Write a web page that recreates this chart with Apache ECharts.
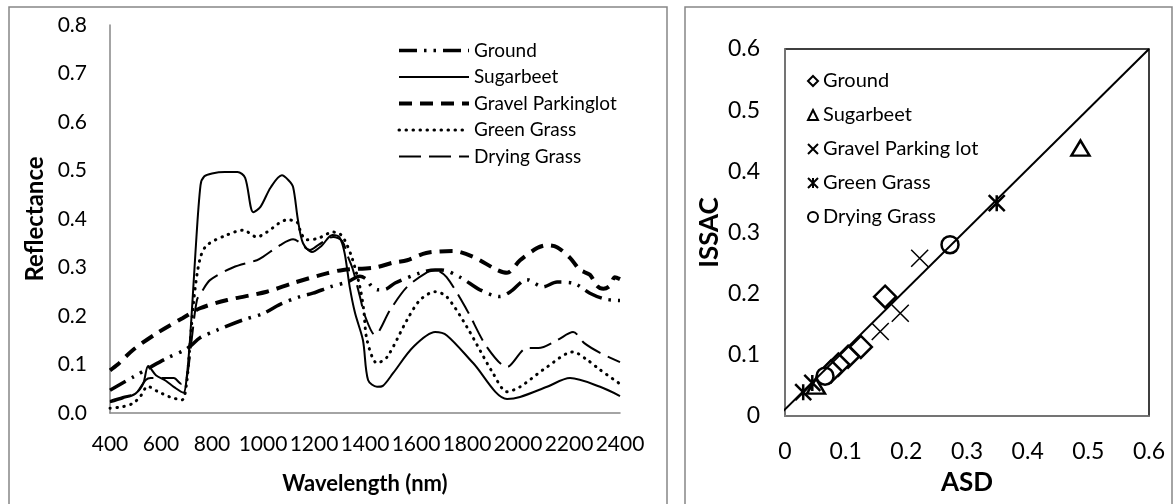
<!DOCTYPE html>
<html>
<head>
<meta charset="utf-8">
<script src="https://cdn.jsdelivr.net/npm/echarts@6/dist/echarts.min.js"></script>
<style>
  html, body { margin: 0; padding: 0; background: #fff; }
  .pane { position: absolute; left: 0; top: 0; width: 1176px; height: 504px; }
</style>
</head>
<body>
<div id="spectra" class="pane"></div>
<div id="compare" class="pane"></div>
<script>
// ---- left panel: reflectance spectra ----
const groundWl  = [400, 490, 560, 623, 694, 720, 753, 820, 922, 1000, 1067, 1145, 1196, 1263, 1330, 1380, 1405, 1425, 1450, 1480, 1518, 1616, 1675, 1700, 1773, 1851, 1929, 1970, 2035, 2098, 2153, 2216, 2282, 2340, 2400]
const groundRef = [0.047, 0.074, 0.095, 0.113, 0.13, 0.14, 0.155, 0.171, 0.192, 0.205, 0.224, 0.24, 0.247, 0.26, 0.27, 0.282, 0.276, 0.262, 0.254, 0.255, 0.268, 0.289, 0.295, 0.295, 0.28, 0.254, 0.24, 0.25, 0.275, 0.26, 0.27, 0.268, 0.247, 0.235, 0.232]

const beetWl  = [400, 450, 500, 530, 550, 580, 620, 650, 688, 700, 715, 735, 755, 770, 800, 850, 900, 930, 962, 990, 1030, 1074, 1100, 1118, 1137, 1157, 1192, 1230, 1272, 1300, 1320, 1340, 1361, 1392, 1412, 1447, 1470, 1510, 1589, 1675, 1721, 1824, 1957, 2008, 2114, 2204, 2322, 2400]
const beetRef = [0.022, 0.03, 0.04, 0.06, 0.097, 0.078, 0.066, 0.054, 0.042, 0.07, 0.16, 0.33, 0.47, 0.488, 0.494, 0.497, 0.497, 0.485, 0.414, 0.425, 0.465, 0.49, 0.48, 0.466, 0.398, 0.35, 0.332, 0.345, 0.367, 0.362, 0.33, 0.26, 0.206, 0.15, 0.068, 0.054, 0.056, 0.082, 0.136, 0.167, 0.16, 0.103, 0.029, 0.033, 0.054, 0.072, 0.054, 0.035]

const gravelWl  = [400, 430, 490, 585, 686, 753, 860, 1015, 1118, 1250, 1314, 1440, 1510, 1565, 1640, 1745, 1824, 1918, 1957, 2008, 2075, 2114, 2153, 2204, 2243, 2282, 2310, 2335, 2360, 2380, 2400]
const gravelRef = [0.088, 0.1, 0.13, 0.165, 0.196, 0.216, 0.233, 0.25, 0.268, 0.288, 0.295, 0.3, 0.31, 0.315, 0.33, 0.334, 0.322, 0.295, 0.289, 0.315, 0.34, 0.346, 0.342, 0.32, 0.295, 0.285, 0.262, 0.256, 0.262, 0.28, 0.276]

const greenWl  = [400, 450, 490, 520, 548, 585, 635, 682, 700, 715, 730, 753, 780, 858, 922, 976, 1015, 1094, 1133, 1150, 1172, 1215, 1275, 1300, 1320, 1349, 1380, 1395, 1408, 1447, 1486, 1565, 1616, 1675, 1720, 1800, 1902, 1957, 2008, 2114, 2216, 2270, 2322, 2400]
const greenRef = [0.01, 0.013, 0.02, 0.035, 0.055, 0.045, 0.033, 0.027, 0.06, 0.15, 0.24, 0.318, 0.346, 0.367, 0.377, 0.363, 0.373, 0.398, 0.394, 0.37, 0.357, 0.36, 0.373, 0.37, 0.357, 0.32, 0.26, 0.212, 0.15, 0.103, 0.115, 0.192, 0.233, 0.25, 0.24, 0.177, 0.082, 0.044, 0.054, 0.095, 0.126, 0.11, 0.089, 0.06]

const dryWl  = [400, 450, 500, 540, 560, 650, 680, 700, 720, 741, 760, 792, 882, 976, 1000, 1067, 1118, 1140, 1184, 1216, 1275, 1310, 1335, 1353, 1380, 1400, 1439, 1498, 1565, 1643, 1675, 1720, 1800, 1878, 1957, 2035, 2080, 2153, 2216, 2260, 2322, 2400]
const dryRef = [0.025, 0.033, 0.04, 0.068, 0.072, 0.072, 0.06, 0.07, 0.15, 0.233, 0.25, 0.274, 0.3, 0.315, 0.322, 0.346, 0.358, 0.353, 0.336, 0.346, 0.363, 0.355, 0.32, 0.295, 0.24, 0.2, 0.161, 0.212, 0.26, 0.29, 0.295, 0.28, 0.212, 0.136, 0.095, 0.134, 0.134, 0.15, 0.167, 0.144, 0.124, 0.105]

// ---- right panel: ISSAC vs ASD ----
const groundPts = [[0.165, 0.195], [0.125, 0.113], [0.104, 0.097], [0.088, 0.084], [0.076, 0.073]]
const beetPts   = [[0.487, 0.438], [0.051, 0.049]]
const gravelPts = [[0.222, 0.258], [0.19, 0.168], [0.157, 0.138]]
const greenPts  = [[0.349, 0.348], [0.03, 0.039], [0.045, 0.054]]
const dryPts    = [[0.272, 0.28], [0.066, 0.065]]
const fitLine   = [[-0.016, -0.005], [0.6, 0.6]]

const INK = '#000'
const AXIS = '#868686'
const FONT = 'Lato, "Open Sans", sans-serif'

function pairs(xs, ys) { return xs.map((x, i) => [x, ys[i]]) }

const spectra = [
  { name: 'Ground', data: pairs(groundWl, groundRef), dash: [18, 7, 2.5, 7, 2.5, 7], width: 3.5, cap: 'butt' },
  { name: 'Sugarbeet', data: pairs(beetWl, beetRef), dash: 'solid', width: 2, cap: 'butt' },
  { name: 'Gravel Parkinglot', data: pairs(gravelWl, gravelRef), dash: [13, 8], width: 4, cap: 'butt' },
  { name: 'Green Grass', data: pairs(greenWl, greenRef), dash: [0.5, 6.5], width: 3, cap: 'round' },
  { name: 'Drying Grass', data: pairs(dryWl, dryRef), dash: [22, 8], width: 2, cap: 'butt' }
]

const left = echarts.init(document.getElementById('spectra'), null, { renderer: 'canvas' })
left.setOption({
  backgroundColor: '#fff',
  animation: false,
  textStyle: { fontFamily: FONT, color: INK },
  graphic: [{
    type: 'rect', shape: { x: 9, y: 7, width: 658, height: 520 },
    style: { fill: 'none', stroke: AXIS, lineWidth: 1.5 }, silent: true
  }],
  grid: { left: 110, top: 25, width: 510, height: 388 },
  legend: {
    orient: 'vertical', left: 397, top: 41, padding: 0,
    itemWidth: 70, itemHeight: 14, itemGap: 7.5,
    itemStyle: { opacity: 0 },
    textStyle: { fontSize: 19, fontFamily: FONT, color: INK },
    data: spectra.map(s => ({ name: s.name, lineStyle: { width: s.width, type: s.dash, cap: s.cap } }))
  },
  xAxis: {
    type: 'value', min: 400, max: 2400, interval: 200,
    name: 'Wavelength (nm)', nameLocation: 'middle', nameGap: 60,
    nameTextStyle: { fontSize: 22, fontWeight: 'bold', fontFamily: FONT, color: INK },
    axisLine: { lineStyle: { color: AXIS, width: 1.5 } },
    axisTick: { show: false }, splitLine: { show: false },
    axisLabel: { fontSize: 21, margin: 21, color: INK, fontFamily: FONT, formatter: v => String(v) }
  },
  yAxis: {
    type: 'value', min: 0, max: 0.8, interval: 0.1,
    name: 'Reflectance', nameLocation: 'middle', nameGap: 63,
    nameTextStyle: { fontSize: 24, fontWeight: 'bold', fontFamily: FONT, color: INK },
    axisLine: { show: true, lineStyle: { color: AXIS, width: 1.5 } },
    axisTick: { show: false }, splitLine: { show: false },
    axisLabel: { fontSize: 21, margin: 23, color: INK, fontFamily: FONT, formatter: v => v.toFixed(1) }
  },
  series: spectra.map(s => ({
    name: s.name, type: 'line', data: s.data, symbol: 'none', smooth: 0.3,
    color: INK,
    lineStyle: { color: INK, width: s.width, type: s.dash, cap: s.cap }
  }))
})

const CROSS = 'path://M0,0L10,10M10,0L0,10'
const STAR = 'path://M0,0L10,10M10,0L0,10M5,0L5,10'

const scatters = [
  { name: 'Ground', data: groundPts, symbol: 'diamond', size: 22, bw: 2.5 },
  { name: 'Sugarbeet', data: beetPts, symbol: 'triangle', size: [18, 15], bw: 2.5 },
  { name: 'Gravel Parking lot', data: gravelPts, symbol: CROSS, size: 17, bw: 1.5 },
  { name: 'Green Grass', data: greenPts, symbol: STAR, size: 16, bw: 2.5 },
  { name: 'Drying Grass', data: dryPts, symbol: 'circle', size: 17, bw: 2.5 }
]

const right = echarts.init(document.getElementById('compare'), null, { renderer: 'canvas' })
right.setOption({
  backgroundColor: 'transparent',
  animation: false,
  textStyle: { fontFamily: FONT, color: INK },
  graphic: [{
    type: 'rect', shape: { x: 685, y: 7, width: 487, height: 520 },
    style: { fill: 'none', stroke: AXIS, lineWidth: 1.5 }, silent: true
  }],
  grid: { left: 785, top: 49, width: 364, height: 367, show: true, borderColor: INK, borderWidth: 1.5, backgroundColor: 'transparent' },
  legend: {
    orient: 'vertical', left: 807, top: 71, padding: 0,
    itemWidth: 10, itemHeight: 10, itemGap: 14,
    textStyle: { fontSize: 20, fontFamily: FONT, color: INK },
    data: scatters.map(s => s.name)
  },
  xAxis: {
    type: 'value', min: 0, max: 0.6, interval: 0.1,
    name: 'ASD', nameLocation: 'middle', nameGap: 54,
    nameTextStyle: { fontSize: 26, fontWeight: 'bold', fontFamily: FONT, color: INK },
    axisLine: { lineStyle: { color: AXIS, width: 1.5 } },
    axisTick: { show: false }, splitLine: { show: false },
    axisLabel: { fontSize: 23, margin: 24, color: INK, fontFamily: FONT }
  },
  yAxis: {
    type: 'value', min: 0, max: 0.6, interval: 0.1,
    name: 'ISSAC', nameLocation: 'middle', nameGap: 62,
    nameTextStyle: { fontSize: 26, fontWeight: 'bold', fontFamily: FONT, color: INK },
    axisLine: { show: true, lineStyle: { color: AXIS, width: 1.5 } },
    axisTick: { show: false }, splitLine: { show: false },
    axisLabel: { fontSize: 23, margin: 25, color: INK, fontFamily: FONT }
  },
  series: [{
    type: 'line', data: fitLine, symbol: 'none', clip: false, silent: true,
    lineStyle: { color: INK, width: 2 }
  }].concat(scatters.map(s => ({
    name: s.name, type: 'scatter', data: s.data, symbol: s.symbol, symbolSize: s.size,
    itemStyle: { color: '#fff', borderColor: INK, borderWidth: s.bw, opacity: 1 }
  })))
})
</script>
</body>
</html>
